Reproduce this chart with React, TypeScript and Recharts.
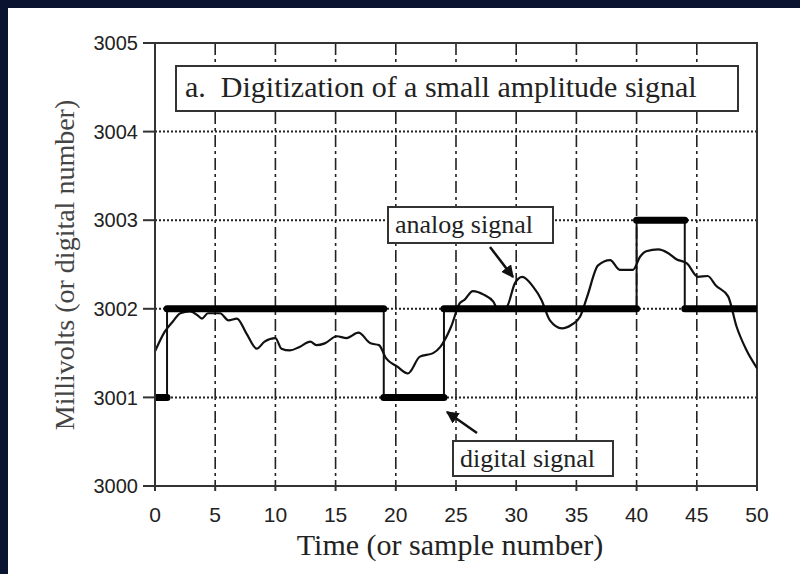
import { CartesianGrid, ComposedChart, Line, ReferenceArea, XAxis, YAxis } from "recharts";

// analog signal (time, millivolts)
const analogT = [
  0, 0.8, 1.5, 2.1, 2.9, 3.5, 3.9, 4.4, 5.4, 6.1, 6.8, 7.6, 8.45, 9.1, 10.0, 10.5, 11.2, 12.0, 12.9, 13.4, 14.1,
  15.1, 15.9, 16.9, 17.9, 18.6, 19.2, 20.1, 21.0, 22.0, 23.1, 23.7, 24.6, 25.3, 25.7, 26.4, 27.3, 28.1, 28.5, 29.2,
  29.9, 30.5, 31.4, 32.1, 32.8, 33.8, 34.6, 35.3, 35.9, 36.8, 37.8, 38.6, 39.7, 40.3, 40.8, 41.8, 42.6, 43.3, 44.2,
  45.1, 45.9, 46.6, 47.6, 48.3, 49.1, 50,
];
const analogMv = [
  3001.52, 3001.74, 3001.86, 3001.95, 3001.97, 3001.93, 3001.89, 3001.95, 3001.95, 3001.87, 3001.89, 3001.72, 3001.55,
  3001.63, 3001.67, 3001.55, 3001.53, 3001.57, 3001.63, 3001.59, 3001.61, 3001.69, 3001.67, 3001.73, 3001.61, 3001.59,
  3001.44, 3001.35, 3001.27, 3001.46, 3001.5, 3001.57, 3001.8, 3002.06, 3002.1, 3002.2, 3002.16, 3002.08, 3001.99,
  3002.02, 3002.29, 3002.36, 3002.25, 3002.1, 3001.87, 3001.78, 3001.82, 3001.91, 3002.14, 3002.49, 3002.55, 3002.44,
  3002.44, 3002.59, 3002.65, 3002.67, 3002.63, 3002.56, 3002.51, 3002.36, 3002.37, 3002.26, 3002.14, 3001.8, 3001.54,
  3001.33,
];

// digital signal: level held from each change time to the next
const digitalT = [0, 1, 19, 24, 40, 44, 50];
const digitalLevel = [3001, 3002, 3001, 3002, 3003, 3002, 3002];

const xTicks = [0, 5, 10, 15, 20, 25, 30, 35, 40, 45, 50];
const yTicks = [3000, 3001, 3002, 3003, 3004, 3005];

const analogData = analogT.map((t, i) => ({ t, v: analogMv[i] }));
const stepData = digitalT.map((t, i) => ({ t, v: digitalLevel[i] }));
const segments = digitalT.slice(0, -1).map((t, i) => [
  { t, v: digitalLevel[i] },
  { t: digitalT[i + 1], v: digitalLevel[i] },
]);

const serif = "'Liberation Serif', 'Times New Roman', serif";
const sans = "'Liberation Sans', Arial, sans-serif";
const ink = "#222";

export default function App() {
  return (
    <div style={{ position: "absolute", left: 0, top: 0, width: 800, height: 574, background: "#0a1430" }}>
      <div style={{ position: "absolute", left: 8, top: 8, width: 792, height: 566, background: "#fff" }} />
      <div style={{ position: "absolute", left: 0, top: 0 }}>
        <ComposedChart width={800} height={574} margin={{ top: 43, right: 43, bottom: 28, left: 85 }}>
          <CartesianGrid horizontal={false} stroke={ink} strokeWidth={1.6} strokeDasharray="12 4 3 4" />
          <CartesianGrid vertical={false} stroke={ink} strokeWidth={2} strokeDasharray="2 2" />
          <XAxis
            type="number"
            dataKey="t"
            domain={[0, 50]}
            ticks={xTicks}
            height={60}
            tickSize={5}
            tickMargin={16}
            axisLine={{ stroke: "#333", strokeWidth: 2 }}
            tickLine={{ stroke: "#333", strokeWidth: 2 }}
            tick={{ fill: ink, fontSize: 21, fontFamily: sans }}
            allowDataOverflow
          />
          <YAxis
            type="number"
            domain={[3000, 3005]}
            ticks={yTicks}
            width={70}
            tickSize={12}
            tickMargin={5}
            axisLine={{ stroke: "#333", strokeWidth: 2 }}
            tickLine={{ stroke: "#333", strokeWidth: 2 }}
            tick={{ fill: ink, fontSize: 20, fontFamily: sans }}
            allowDataOverflow
          />
          <ReferenceArea x1={0} x2={50} y1={3000} y2={3005} fill="none" stroke="#333" strokeWidth={2} />
          <Line
            data={analogData}
            dataKey="v"
            type="monotone"
            stroke="#111"
            strokeWidth={2.2}
            dot={false}
            isAnimationActive={false}
          />
          <Line
            data={stepData}
            dataKey="v"
            type="stepAfter"
            stroke="#111"
            strokeWidth={2}
            dot={false}
            isAnimationActive={false}
          />
          {segments.map((seg, i) => (
            <Line
              key={i}
              data={seg}
              dataKey="v"
              type="linear"
              stroke="#000"
              strokeWidth={7}
              strokeLinecap="round"
              dot={false}
              isAnimationActive={false}
            />
          ))}
        </ComposedChart>
      </div>
      <svg width={800} height={574} style={{ position: "absolute", left: 0, top: 0, pointerEvents: "none" }}>
        <defs>
          <marker id="head" viewBox="0 0 10 10" refX="9" refY="5" markerWidth="5" markerHeight="5" orient="auto">
            <path d="M0,0 L10,5 L0,10 z" fill="#111" />
          </marker>
        </defs>
        <rect x={176} y={66} width={562} height={45} fill="#fff" stroke="#333" strokeWidth={2} />
        <text x={185} y={97} fontFamily={serif} fontSize={30} fill={ink}>
          a.{"\u00a0\u00a0"}Digitization of a small amplitude signal
        </text>
        <rect x={388} y={207} width={165} height={36} fill="#fff" stroke="#333" strokeWidth={2} />
        <text x={395} y={233} fontFamily={serif} fontSize={26} fill={ink}>
          analog signal
        </text>
        <line x1={490} y1={247} x2={513} y2={277} stroke="#111" strokeWidth={2.5} markerEnd="url(#head)" />
        <rect x={453} y={441} width={160} height={35} fill="#fff" stroke="#333" strokeWidth={2} />
        <text x={460} y={467} fontFamily={serif} fontSize={26} fill={ink}>
          digital signal
        </text>
        <line x1={477} y1={433} x2={447} y2={412} stroke="#111" strokeWidth={2.5} markerEnd="url(#head)" />
        <text
          x={0}
          y={0}
          transform="translate(74 265) rotate(-90)"
          textAnchor="middle"
          fontFamily={serif}
          fontSize={28}
          fill="#444"
        >
          Millivolts (or digital number)
        </text>
        <text x={450} y={555} textAnchor="middle" fontFamily={serif} fontSize={30} fill={ink}>
          Time (or sample number)
        </text>
      </svg>
    </div>
  );
}
